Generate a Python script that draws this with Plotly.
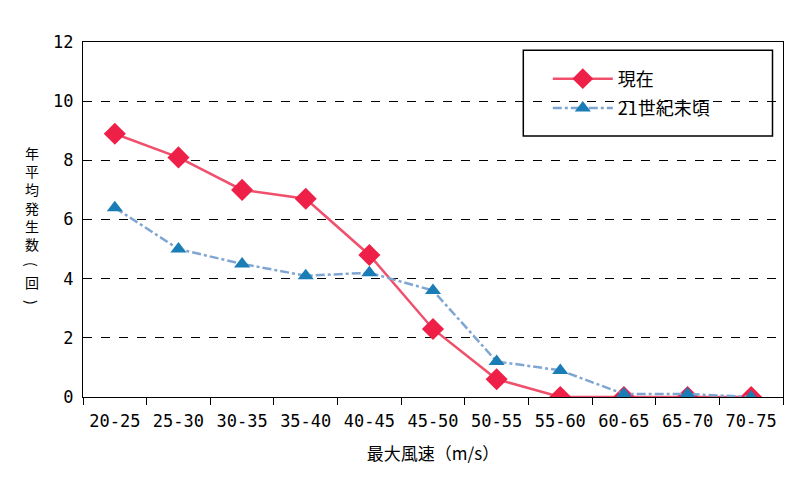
import plotly.graph_objects as go

categories = ["20-25", "25-30", "30-35", "35-40", "40-45", "45-50",
              "50-55", "55-60", "60-65", "65-70", "70-75"]
current = [8.9, 8.1, 7.0, 6.7, 4.8, 2.3, 0.6, 0.0, 0.0, 0.0, 0.0]
future = [6.4, 5.0, 4.5, 4.1, 4.2, 3.6, 1.2, 0.9, 0.1, 0.1, 0.0]
y_ticks = [0, 2, 4, 6, 8, 10, 12]
y_title_main = ["年", "平", "均", "発", "生", "数"]
y_title_unit = ["(", "回", ")"]

font_jp = "Noto Sans CJK JP, Noto Sans, sans-serif"
font_num = "DejaVu Sans Mono, Liberation Mono, monospace"

fig = go.Figure()
fig.add_trace(go.Scatter(
    x=categories, y=current, name="現在", mode="lines+markers",
    line=dict(color="#F0506C", width=2.5),
    marker=dict(symbol="diamond", size=17, color="#EE2048"),
    legendgroup="a",
))
fig.add_trace(go.Scatter(
    x=categories, y=future, name="21世紀末頃", mode="lines+markers",
    line=dict(color="#7FA6D2", width=2.5, dash="dashdot"),
    marker=dict(symbol="triangle-up", size=14, color="#1A7DB6"),
    legendgroup="b",
))

fig.update_layout(
    width=792, height=483,
    margin=dict(l=83, r=9, t=42, b=86, autoexpand=False),
    paper_bgcolor="white", plot_bgcolor="white",
    font=dict(family=font_jp, size=15, color="black"),
    legend=dict(
        x=0.664, y=0.948, xanchor="left", yanchor="top",
        borderwidth=0, bgcolor="rgba(0,0,0,0)",
        font=dict(size=18, family=font_jp), itemwidth=60,
        traceorder="grouped", tracegroupgap=3,
    ),
    xaxis=dict(
        type="category", range=[-0.5, len(categories) - 0.5],
        autorange=False, showline=True, linecolor="black", linewidth=1,
        mirror=True, ticks="outside", tickson="boundaries", ticklen=7,
        tickcolor="black", showgrid=False, automargin=False,
        tickfont=dict(size=17, family=font_num), ticklabelstandoff=9,
        title=dict(text="最大風速（m/s）", font=dict(size=17), standoff=17),
    ),
    yaxis=dict(
        range=[0, 12], tickvals=y_ticks, showline=True, linecolor="black",
        linewidth=1, mirror=True, ticks="", showgrid=True,
        gridcolor="black", griddash="dash", gridwidth=1, automargin=False,
        tickfont=dict(size=17, family=font_num), zeroline=False,
        ticklabelstandoff=5,
    ),
    showlegend=True,
    shapes=[dict(
        type="rect", xref="paper", yref="paper",
        x0=0.629, x1=0.985, y0=0.735, y1=0.977,
        line=dict(color="black", width=1.5), fillcolor="white", layer="below",
    )],
)

# vertical y-axis title
title_x = (32 - 83) / 700
fig.add_annotation(
    text="<br>".join(y_title_main), xref="paper", yref="paper",
    x=title_x, y=(397 - 198) / 355, xanchor="center", yanchor="middle",
    showarrow=False, align="center", font=dict(size=14, family=font_jp),
)
for ch, py in zip(y_title_unit, [264, 282, 302]):
    fig.add_annotation(
        text=ch, xref="paper", yref="paper",
        x=title_x, y=(397 - py) / 355,
        xanchor="center", yanchor="middle", showarrow=False,
        textangle=90 if ch in "()" else 0,
        font=dict(size=14, family=font_jp),
    )

fig.write_html(
    "out.html",
    config={"displayModeBar": False},
    post_script="document.body.style.margin='0';document.body.style.overflow='hidden';",
)
